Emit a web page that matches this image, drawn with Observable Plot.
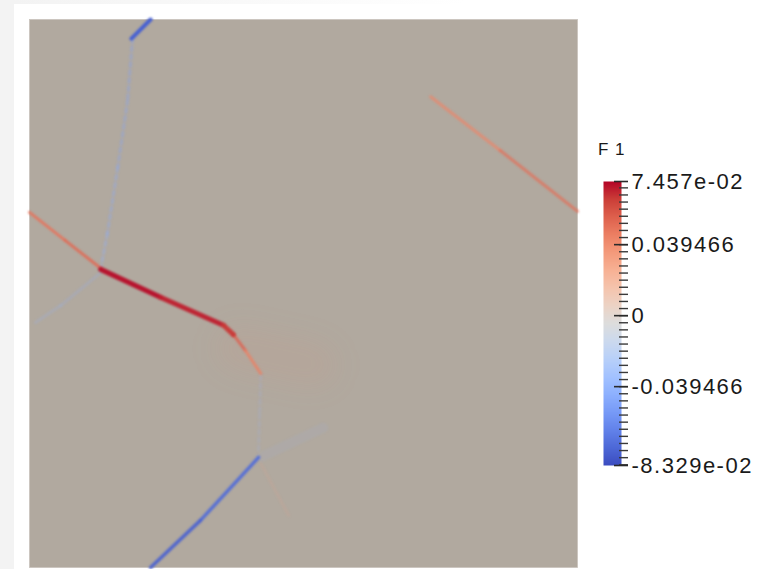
<!DOCTYPE html>
<html>
<head>
<meta charset="utf-8">
<script src="https://cdn.jsdelivr.net/npm/d3@7"></script>
<script src="https://cdn.jsdelivr.net/npm/@observablehq/plot@0.6"></script>
<style>
  html, body { margin: 0; padding: 0; }
  body { width: 769px; height: 569px; overflow: hidden; background: #f3f3f3; }
  #wrap { position: relative; width: 769px; height: 569px; }
  #panel { position: absolute; left: 14px; top: 4px; right: 0; bottom: 0; background: #ffffff; }
  #panelTop { position: absolute; left: 14px; top: 0; right: 0; height: 4px; background: linear-gradient(to right, #f3f3f3, #ffffff 60%); }
  .layer { position: absolute; left: 0; top: 0; }
  .soft { filter: blur(0.9px); }
  .faint { filter: blur(1.3px); }
  .glow { filter: blur(14px); }
  .cbar text { letter-spacing: 1.5px; }
  #title { position: absolute; left: 598px; top: 140px; font: 17px "Liberation Sans", Arial, sans-serif; color: #1a1a1a; letter-spacing: 1px; }
</style>
</head>
<body>
<div id="wrap">
  <div id="panelTop"></div>
  <div id="panel"></div>
  <div id="title">F 1</div>
</div>
<script>
// ---- data (field features, x/y in normalized domain units, v = F 1 value) ----
const vMin = -0.08329;
const vMax = 0.07457;
const majorTicks = [0.07457, 0.039466, 0, -0.039466, -0.08329];
const majorLabels = ["7.457e-02", "0.039466", "0", "-0.039466", "-8.329e-02"];
const minorStep = 0.0039466;

// cool-to-warm colormap control colours
const cmapColors = [
  "rgb(59,76,192)", "rgb(77,104,215)", "rgb(98,130,234)", "rgb(119,154,247)",
  "rgb(141,176,254)", "rgb(163,194,255)", "rgb(184,208,249)", "rgb(204,217,238)",
  "rgb(221,221,221)", "rgb(236,211,197)", "rgb(245,196,173)", "rgb(247,177,148)",
  "rgb(244,154,123)", "rgb(236,127,99)", "rgb(222,96,77)", "rgb(203,62,56)",
  "rgb(180,4,38)"
];

// polylines: [x, y, v]
const blueTop = [[0.186, 0.035, -0.074], [0.221, 0.000, -0.078]];
const dashedUpper = [[0.188, 0.035, -0.052], [0.179, 0.148, -0.050], [0.161, 0.270, -0.048], [0.142, 0.391, -0.046], [0.130, 0.454, -0.042]];
const orangeLeft = [[0.000, 0.352, 0.048], [0.065, 0.403, 0.050], [0.130, 0.454, 0.054]];
const faintLeft = [[0.130, 0.462, -0.045], [0.057, 0.522, -0.042], [0.011, 0.553, -0.040]];
const redMain = [[0.130, 0.456, 0.0745], [0.239, 0.507, 0.072], [0.354, 0.558, 0.068], [0.372, 0.575, 0.063]];
const redTail = [[0.372, 0.575, 0.060], [0.394, 0.604, 0.050], [0.422, 0.646, 0.040]];
const dashedLower = [[0.422, 0.650, -0.040], [0.420, 0.720, -0.040], [0.418, 0.786, -0.042]];
const blueBottom = [[0.418, 0.799, -0.070], [0.312, 0.914, -0.075], [0.221, 1.000, -0.077]];
const wedge = [[0.422, 0.799, -0.045], [0.536, 0.745, -0.040]];
const faintRight = [[0.422, 0.810, 0.035], [0.473, 0.905, 0.030]];
const orangeTopRight = [[0.732, 0.141, 0.038], [0.859, 0.239, 0.048], [1.000, 0.350, 0.053]];
const glowBand = [[0.38, 0.60, 0.045], [0.52, 0.63, 0.040]];

function segs(pts) {
  const out = [];
  for (let i = 0; i < pts.length - 1; i++) {
    out.push({x1: pts[i][0], y1: pts[i][1], x2: pts[i + 1][0], y2: pts[i + 1][1], v: (pts[i][2] + pts[i + 1][2]) / 2});
  }
  return out;
}

const colorStops = cmapColors.map((_, i) => vMin + (vMax - vMin) * i / (cmapColors.length - 1));
const colorScale = {type: "linear", domain: colorStops, range: cmapColors, interpolate: "rgb", clamp: true};

const linkOpts = (extra) => Object.assign({x1: "x1", y1: "y1", x2: "x2", y2: "y2", stroke: "v", strokeLinecap: "round", className: "soft"}, extra);

const main = Plot.plot({
  width: 769, height: 569,
  marginLeft: 29, marginRight: 192, marginTop: 19, marginBottom: 2,
  x: {domain: [0, 1], axis: null},
  y: {domain: [0, 1], reverse: true, axis: null},
  color: colorScale,
  style: {background: "transparent"},
  marks: [
    Plot.frame({fill: "#b1a99f", stroke: "#c9c3bc", strokeWidth: 0.8}),
    Plot.link(segs(glowBand), linkOpts({strokeWidth: 45, strokeOpacity: 0.07, className: "glow"})),
    Plot.link(segs(dashedUpper), linkOpts({strokeWidth: 3, strokeOpacity: 0.35, strokeDasharray: "4,4", className: "faint"})),
    Plot.link(segs(faintLeft), linkOpts({strokeWidth: 3, strokeOpacity: 0.2, className: "faint"})),
    Plot.link(segs(dashedLower), linkOpts({strokeWidth: 3, strokeOpacity: 0.16, strokeDasharray: "4,4", className: "faint"})),
    Plot.link(segs(wedge), linkOpts({strokeWidth: 10, strokeOpacity: 0.09, className: "faint"})),
    Plot.link(segs(faintRight), linkOpts({strokeWidth: 3, strokeOpacity: 0.12, className: "faint"})),
    Plot.link(segs(orangeLeft), linkOpts({strokeWidth: 3, strokeOpacity: 0.85})),
    Plot.link(segs(orangeTopRight), linkOpts({strokeWidth: 3, strokeOpacity: 0.7})),
    Plot.link(segs(blueTop), linkOpts({strokeWidth: 4})),
    Plot.link(segs(blueBottom), linkOpts({strokeWidth: 3.5, strokeOpacity: 0.9})),
    Plot.link(segs(redTail), linkOpts({strokeWidth: 3, strokeOpacity: 0.8})),
    Plot.link(segs(redMain), linkOpts({strokeWidth: 5, strokeOpacity: 0.95}))
  ]
});
main.classList.add("layer");
document.getElementById("wrap").appendChild(main);

const minorTicks = [];
for (let k = Math.ceil(vMin / minorStep); k * minorStep <= vMax; k++) minorTicks.push(k * minorStep);
const labelMap = new Map(majorTicks.map((d, i) => [d, majorLabels[i]]));

const bar = Plot.plot({
  width: 769, height: 569,
  marginLeft: 603, marginRight: 148, marginTop: 181, marginBottom: 104,
  x: {domain: [0, 1], axis: null},
  y: {domain: [vMin, vMax], axis: null},
  color: colorScale,
  className: "cbar",
  style: {background: "transparent", fontFamily: "'Liberation Sans', Arial, sans-serif", fontSize: "22px", color: "#1a1a1a"},
  marks: [
    Plot.raster({x1: 0, x2: 1, y1: vMin, y2: vMax, width: 1, height: 284, fill: (x, y) => y}),
    Plot.axisY(minorTicks, {anchor: "right", tickSize: 9, dx: -3, tickFormat: () => "", stroke: "#3a3a3a", strokeWidth: 1.4, label: null}),
    Plot.axisY(majorTicks, {anchor: "right", tickSize: 14, dx: -8, tickPadding: 4, tickFormat: d => labelMap.get(d), stroke: "#2a2a2a", strokeWidth: 1.6, fill: "#1a1a1a", label: null})
  ]
});
bar.classList.add("layer");
document.getElementById("wrap").appendChild(bar);
</script>
</body>
</html>
